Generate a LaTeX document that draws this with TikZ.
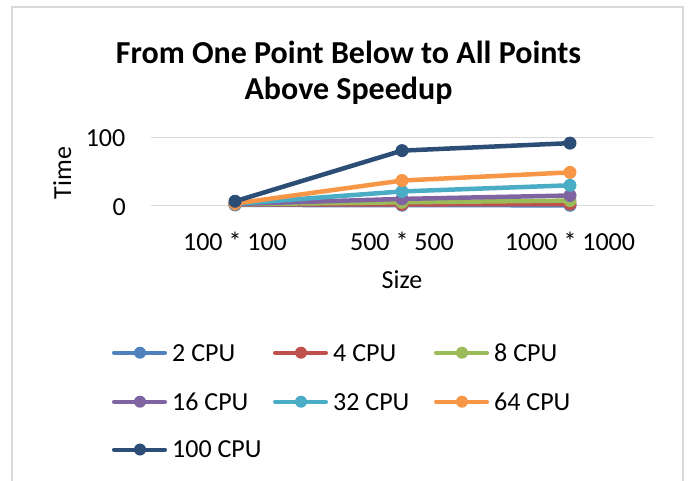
\documentclass[tikz,border=0pt]{standalone}
\usepackage{fontspec}
\setmainfont{Carlito}
\definecolor{gridgray}{HTML}{D9D9D9}
\definecolor{bordergray}{HTML}{D9D9D9}
\definecolor{cA}{HTML}{4F81BD}
\definecolor{cB}{HTML}{C0504D}
\definecolor{cC}{HTML}{9BBB59}
\definecolor{cD}{HTML}{8064A2}
\definecolor{cE}{HTML}{4BACC6}
\definecolor{cF}{HTML}{F79646}
\definecolor{cG}{HTML}{2C4D75}
\begin{document}
\begin{tikzpicture}[x=1pt,y=-1pt,
  lbl/.style={inner sep=0pt, font=\fontsize{26}{31}\selectfont},
  ttl/.style={inner sep=0pt, font=\fontsize{32}{38}\selectfont\bfseries},
  gridln/.style={draw=gridgray, line width=1.5pt},
  ser/.style={line width=4.5pt, line join=round, line cap=round},
  mk/.style={circle, inner sep=0pt, minimum size=13pt},
  lgline/.style={line width=4pt, line cap=round},
  lgmk/.style={circle, inner sep=0pt, minimum size=12pt}]
\useasboundingbox (0,0) rectangle (688,480);
\fill[white] (0,0) rectangle (688,480);
\draw[draw=bordergray, line width=1.5pt] (12,7) rectangle (683,495);
% title
\node[ttl, anchor=base] (t1) at (348.5,63) {From One Point Below to All Points};
\node[ttl, anchor=base] (t2) at (348.5,99) {Above Speedup};
% grid
\coordinate (g1l) at (151,137.7); \coordinate (g1r) at (654,137.7);
\coordinate (g0l) at (151,205.7); \coordinate (g0r) at (654,205.7);
\draw[gridln] (g1l) -- (g1r);
\draw[gridln] (g0l) -- (g0r);
% axis labels
\node[lbl, anchor=base east] (y100) at (125.5,146.7) {100};
\node[lbl, anchor=base east] (y0) at (126,215) {0};
\node[lbl, anchor=base] (x1) at (235,250) {100 * 100};
\node[lbl, anchor=base] (x2) at (402,250) {500 * 500};
\node[lbl, anchor=base] (x3) at (570,250) {1000 * 1000};
\node[lbl, anchor=base] (xt) at (402,288) {Size};
\node[lbl, anchor=base, rotate=90] (yt) at (71,173) {Time};
% series
\foreach \n/\c/\a/\b/\d in {1/cA/1.2/0.8/0.6, 2/cB/1.8/2/2.5, 3/cC/2.2/5/7.5, 4/cD/2.5/10/15, 5/cE/2.8/21/30, 6/cF/3.2/37/49, 7/cG/6.5/81/92}{
  \coordinate (s\n a) at (235,{205.7-0.68*\a});
  \coordinate (s\n b) at (402,{205.7-0.68*\b});
  \coordinate (s\n c) at (570,{205.7-0.68*\d});
  \draw[ser, draw=\c] (s\n a) -- (s\n b) -- (s\n c);
  \node[mk, fill=\c] (m\n a) at (s\n a) {};
  \node[mk, fill=\c] (m\n b) at (s\n b) {};
  \node[mk, fill=\c] (m\n c) at (s\n c) {};
}
% legend
\foreach \n/\c/\x/\y/\t in {1/cA/112/352.7/2 CPU, 2/cB/273/352.7/4 CPU, 3/cC/434/352.7/8 CPU, 4/cD/112/401.7/16 CPU, 5/cE/273/401.7/32 CPU, 6/cF/434/401.7/64 CPU, 7/cG/112/449.5/100 CPU}{
  \coordinate (l\n a) at (\x+2,\y);
  \coordinate (l\n b) at (\x+53,\y);
  \draw[lgline, draw=\c] (l\n a) -- (l\n b);
  \node[lgmk, fill=\c] (l\n m) at (\x+28,\y) {};
  \node[lbl, anchor=base west] (l\n t) at (\x+60,\y+8.3) {\t};
}
\end{tikzpicture}
\end{document}
